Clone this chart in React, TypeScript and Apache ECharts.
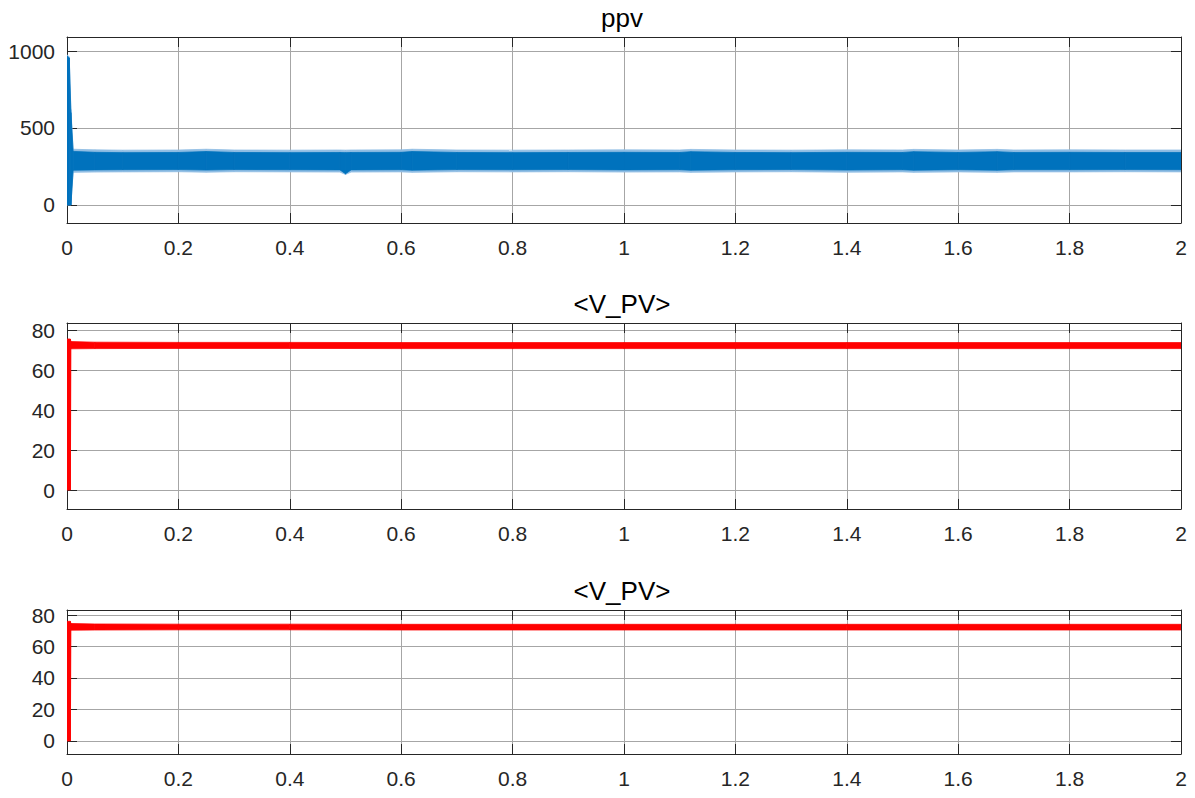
import React, { useEffect, useRef } from "react";
import * as echarts from "echarts";

// ---------- data ----------
const xTicks = [0, 0.2, 0.4, 0.6, 0.8, 1, 1.2, 1.4, 1.6, 1.8, 2];
const titles = ["ppv", "<V_PV>", "<V_PV>"];

// ppv: envelope of the noisy trace (time, upper, lower)
const ppvTime = [0, 0.004, 0.007, 0.011, 0.05, 0.1, 0.2, 0.25, 0.3, 0.4, 0.49, 0.5, 0.51, 0.6, 0.62, 0.7, 0.8, 0.9, 1.0, 1.1, 1.12, 1.2, 1.3, 1.4, 1.5, 1.52, 1.6, 1.67, 1.7, 1.8, 1.9, 2.0];
const ppvHi = [968, 955, 600, 348, 342, 340, 341, 347, 341, 340, 341, 340, 341, 342, 347, 341, 340, 341, 342, 341, 346, 341, 340, 342, 341, 346, 341, 346, 341, 342, 341, 341];
const ppvLo = [0, 0, 0, 226, 228, 229, 230, 227, 230, 229, 228, 203, 228, 229, 226, 230, 229, 230, 228, 229, 226, 229, 230, 227, 229, 226, 229, 226, 229, 229, 230, 229];
const ppvHiFringe = [975, 962, 620, 362, 358, 356, 357, 362, 357, 356, 357, 356, 357, 358, 362, 357, 356, 357, 358, 357, 361, 357, 356, 358, 357, 361, 357, 361, 357, 358, 357, 357];
const ppvLoFringe = [0, 0, 0, 212, 214, 215, 216, 213, 216, 215, 214, 198, 214, 215, 212, 216, 215, 216, 214, 215, 212, 215, 216, 213, 215, 212, 215, 212, 215, 215, 216, 215];

// V_PV (middle panel)
const vpv1Time = [0, 0.006, 0.007, 0.05, 0.2, 0.4, 0.6, 0.8, 1.0, 1.2, 1.4, 1.6, 1.8, 2.0];
const vpv1Hi = [75.5, 75.5, 74.2, 73.9, 73.8, 73.8, 73.7, 73.7, 73.7, 73.7, 73.7, 73.7, 73.7, 73.7];
const vpv1Lo = [0, 0, 70.6, 70.7, 70.8, 70.8, 70.7, 70.7, 70.7, 70.7, 70.7, 70.7, 70.7, 70.7];

// V_PV (bottom panel)
const vpv2Time = [0, 0.006, 0.007, 0.05, 0.2, 0.4, 0.6, 0.8, 1.0, 1.2, 1.4, 1.6, 1.8, 2.0];
const vpv2Hi = [76, 76, 74.6, 74.3, 74.2, 74.2, 74.1, 74.1, 74.1, 74.1, 74.1, 74.1, 74.1, 74.1];
const vpv2Lo = [0, 0, 70.4, 70.5, 70.6, 70.6, 70.5, 70.5, 70.5, 70.5, 70.5, 70.5, 70.5, 70.5];

const yRanges = [
  { min: -117, max: 1091, ticks: [0, 500, 1000] },
  { min: -9.5, max: 83.5, ticks: [0, 20, 40, 60, 80] },
  { min: -8.3, max: 83.2, ticks: [0, 20, 40, 60, 80] },
];

// ---------- layout ----------
const grids = [
  { left: 67, top: 37, width: 1114, height: 186 },
  { left: 67, top: 323, width: 1114, height: 186 },
  { left: 67, top: 610, width: 1114, height: 144 },
];
const titleY = [18, 304, 591];

const FRAME = "#262626";
const GRID = "#a6a6a6";
const FONT = "Liberation Sans, Arial, sans-serif";

function bandSeries(xi: number, yi: number, t: number[], lo: number[], hi: number[], color: string) {
  const data: number[][] = [];
  for (let i = 0; i < t.length - 1; i++) {
    data.push([t[i], lo[i], hi[i], t[i + 1], lo[i + 1], hi[i + 1]]);
  }
  return {
    type: "custom",
    xAxisIndex: xi,
    yAxisIndex: yi,
    silent: true,
    clip: true,
    encode: { x: [0, 3], y: [1, 2, 4, 5] },
    data,
    renderItem: (params: any, api: any) => {
      const p1 = api.coord([api.value(0), api.value(2)]);
      const p2 = api.coord([api.value(3), api.value(5)]);
      const p3 = api.coord([api.value(3), api.value(4)]);
      const p4 = api.coord([api.value(0), api.value(1)]);
      return {
        type: "polygon",
        shape: { points: [p1, p2, p3, p4] },
        style: { fill: color, stroke: color, lineWidth: 0.8 },
      };
    },
  };
}

export default function App() {
  const ref = useRef<HTMLDivElement>(null);
  useEffect(() => {
    if (!ref.current) return;
    const chart = echarts.init(ref.current, null, { renderer: "svg" });
    const xAxis: any[] = [];
    const yAxis: any[] = [];
    grids.forEach((g, i) => {
      xAxis.push({
        type: "value",
        gridIndex: i,
        position: "bottom",
        min: 0,
        max: 2,
        interval: 0.2,
        axisLine: { show: true, onZero: false, lineStyle: { color: FRAME, width: 1 } },
        axisTick: { show: true, inside: true, length: 10, lineStyle: { color: FRAME, width: 1 } },
        splitLine: { show: true, lineStyle: { color: GRID, width: 1 } },
        axisLabel: {
          show: true,
          margin: 14,
          color: FRAME,
          fontSize: 21,
          fontFamily: FONT,
          formatter: (v: number) => String(+v.toFixed(2)),
          customValues: xTicks,
        },
      });
      xAxis.push({
        type: "value",
        gridIndex: i,
        position: "top",
        min: 0,
        max: 2,
        interval: 0.2,
        axisLine: { show: true, onZero: false, lineStyle: { color: FRAME, width: 1 } },
        axisTick: { show: true, inside: true, length: 10, lineStyle: { color: FRAME, width: 1 } },
        splitLine: { show: false },
        axisLabel: { show: false },
      });
      const yr = yRanges[i];
      yAxis.push({
        type: "value",
        gridIndex: i,
        position: "left",
        min: yr.min,
        max: yr.max,
        axisLine: { show: true, onZero: false, lineStyle: { color: FRAME, width: 1 } },
        axisTick: { show: true, inside: true, length: 10, customValues: yr.ticks, lineStyle: { color: FRAME, width: 1 } },
        splitLine: { show: true, lineStyle: { color: GRID, width: 1 } },
        axisLabel: {
          show: true,
          margin: 12,
          color: FRAME,
          fontSize: 21,
          fontFamily: FONT,
          formatter: (v: number) => String(v),
          customValues: yr.ticks,
        },
      });
      yAxis.push({
        type: "value",
        gridIndex: i,
        position: "right",
        min: yr.min,
        max: yr.max,
        axisLine: { show: true, onZero: false, lineStyle: { color: FRAME, width: 1 } },
        axisTick: { show: true, inside: true, length: 10, customValues: yr.ticks, lineStyle: { color: FRAME, width: 1 } },
        splitLine: { show: false },
        axisLabel: { show: false, customValues: yr.ticks },
      });
    });

    const series: any[] = [
      bandSeries(0, 0, ppvTime, ppvLoFringe, ppvHiFringe, "#8fbde3"),
      bandSeries(0, 0, ppvTime, ppvLo, ppvHi, "#0072BD"),
      bandSeries(2, 2, vpv1Time, vpv1Lo, vpv1Hi, "#ff0000"),
      bandSeries(4, 4, vpv2Time, vpv2Lo, vpv2Hi, "#ff0000"),
    ];

    const graphic = titles.map((t, i) => ({
      type: "text",
      x: grids[i].left + grids[i].width / 2 - 2,
      y: titleY[i],
      style: {
        text: t,
        fill: "#000000",
        font: `26px ${FONT}`,
        textAlign: "center",
        textVerticalAlign: "middle",
      },
    }));

    chart.setOption({
      animation: false,
      backgroundColor: "#ffffff",
      grid: grids.map((g) => ({ ...g, containLabel: false })),
      xAxis,
      yAxis,
      series,
      graphic,
    });
    return () => chart.dispose();
  }, []);
  return (
    <div
      ref={ref}
      style={{ position: "absolute", left: 0, top: 0, width: 1195, height: 798, background: "#fff" }}
    />
  );
}
